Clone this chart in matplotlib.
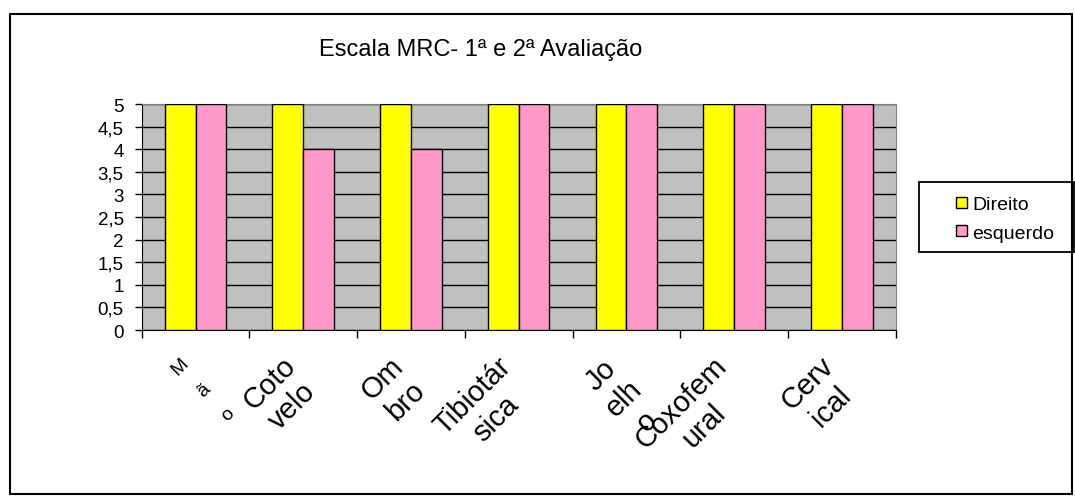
import matplotlib.pyplot as plt
from matplotlib.patches import Patch, Rectangle
from matplotlib import transforms
import numpy as np

plt.rcParams['font.family'] = ['Liberation Sans', 'DejaVu Sans']

# categories as wrapped in the original sheet
categorias = ["M\nã\no", "Coto\nvelo", "Om\nbro", "Tibiotár\nsica",
              "Jo\nelh\no", "Coxofem\nural", "Cerv\nical"]
direito = [5, 5, 5, 5, 5, 5, 5]
esquerdo = [5, 4, 4, 5, 5, 5, 5]
titulo = "Escala MRC- 1ª e 2ª Avaliação"

fig = plt.figure(figsize=(10.75, 5.02), dpi=100)
ax = fig.add_axes([0.1318, 0.3406, 0.7014, 0.4502])
ax.set_facecolor('#C0C0C0')

x = np.arange(len(categorias))
w = 0.2857
ax.bar(x - w / 2, direito, w, color='#FFFF00', edgecolor='black', linewidth=1, zorder=3)
ax.bar(x + w / 2, esquerdo, w, color='#FF99CC', edgecolor='black', linewidth=1, zorder=3)

ax.set_xlim(-0.5, len(categorias) - 0.5)
ax.set_ylim(0, 5)
yt = np.arange(0, 5.01, 0.5)
ax.set_yticks(yt)
ax.set_yticklabels([('%g' % v).replace('.', ',') for v in yt], fontsize=13.5)
ax.yaxis.grid(True, color='black', linewidth=1, zorder=1)
ax.set_axisbelow(True)
ax.tick_params(axis='y', direction='out', length=5, width=1, pad=8)

ax.set_xticks(np.arange(-0.5, len(categorias), 1.0))
ax.set_xticklabels([])
ax.tick_params(axis='x', direction='out', length=6, width=1)

for s in ['top', 'right']:
    ax.spines[s].set_color('#808080')
for s in ['left', 'bottom']:
    ax.spines[s].set_color('black')

# rotated category labels
trans = transforms.blended_transform_factory(ax.transData, ax.transAxes)
off = transforms.ScaledTranslation(-0.22, -0.21, fig.dpi_scale_trans)
off_mao = transforms.ScaledTranslation(-0.16, -0.24, fig.dpi_scale_trans)
for i, lab in enumerate(categorias):
    if i == 0:
        fs, ls, o = 14, 2.3, off_mao
    else:
        fs, ls, o = 21, 1.2, off
    ax.text(i, 0, lab, transform=trans + o, rotation=45, rotation_mode='anchor',
            ha='right', va='top', multialignment='center', fontsize=fs,
            linespacing=ls, clip_on=False)

fig.text(0.447, 1 - 50 / 502, titulo, ha='center', va='center', fontsize=17)

handles = [Patch(facecolor='#FFFF00', edgecolor='black', label='Direito'),
           Patch(facecolor='#FF99CC', edgecolor='black', label='esquerdo')]
leg = fig.legend(handles=handles, loc='center left',
                 bbox_to_anchor=(956 / 1075, 1 - 220 / 502), fontsize=14,
                 frameon=False, handlelength=0.55, handleheight=0.5,
                 handletextpad=0.3, borderpad=0, labelspacing=0.6,
                 borderaxespad=0)

# legend frame
fig.patches.append(Rectangle((919 / 1075, 1 - 253 / 502), 155 / 1075, 70 / 502,
                             transform=fig.transFigure, fill=False,
                             edgecolor='black', linewidth=1.3))

# outer chart border
fig.patches.append(Rectangle((10 / 1075, 1 - 495 / 502), 1062 / 1075, 480 / 502,
                             transform=fig.transFigure, fill=False,
                             edgecolor='black', linewidth=1.5))

fig.savefig('out.png', dpi=100)
